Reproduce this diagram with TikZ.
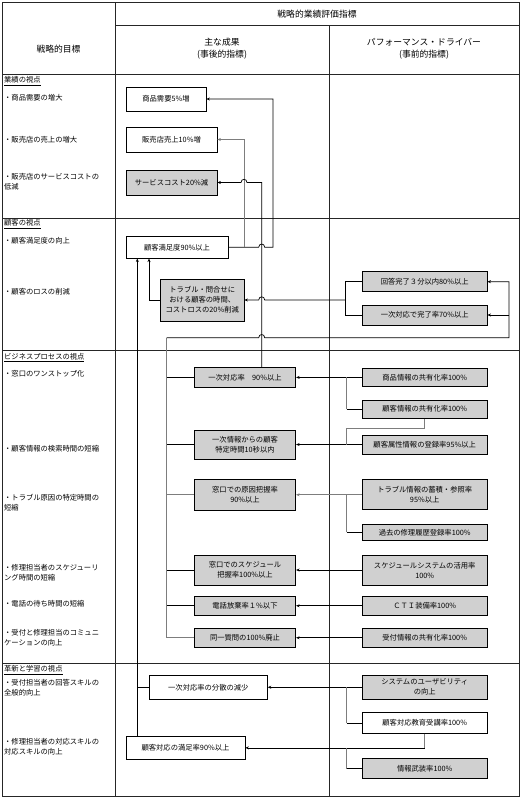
\documentclass[tikz,border=0pt]{standalone}
\usepackage{fontspec}
\setmainfont{Noto Sans CJK JP}
\usetikzlibrary{arrows.meta}
\definecolor{boxgray}{RGB}{208,208,208}
\definecolor{linegray}{RGB}{125,125,125}
\newcommand{\fbody}{\fontsize{7.3pt}{10pt}\selectfont}
\newcommand{\fhead}{\fontsize{8.8pt}{11.7pt}\selectfont}
\begin{document}
\begin{tikzpicture}[x=1pt,y=-1pt,
  tbl/.style={draw=black!85, line width=0.8pt},
  head/.style={align=center, inner sep=0pt, font=\fhead},
  lbl/.style={anchor=west, align=left, inner sep=0pt, font=\fbody},
  wbox/.style={draw=black, line width=0.8pt, fill=white, inner sep=0pt, align=center, font=\fbody},
  gbox/.style={wbox, fill=boxgray},
  rbox/.style={minimum width=124.7pt},
  mbox/.style={minimum width=101.4pt},
  conn/.style={draw=black, line width=0.7pt},
  connG/.style={draw=linegray, line width=0.7pt},
  arr/.style={-{Stealth[length=3.5pt,width=3pt]}}
]
\useasboundingbox (0,0) rectangle (522,798);
% table
\draw[tbl] (2,2) rectangle (519,796);
\draw[tbl] (115,2) -- (115,796);
\draw[tbl] (329,25) -- (329,796);
\draw[tbl] (115,25) -- (519,25);
\draw[tbl] (2,74) -- (519,74);
\draw[tbl] (2,218.5) -- (519,218.5);
\draw[tbl] (2,350.5) -- (519,350.5);
\draw[tbl] (2,663.3) -- (519,663.3);
% headers
\node[head] (h1) at (58.5,49) {戦略的目標};
\node[head] (h2) at (317,14) {戦略的業績評価指標};
\node[head] (h3) at (222,49) {主な成果\\(事後的指標)};
\node[head] (h4) at (424,49) {パフォーマンス・ドライバー\\(事前的指標)};
% left column
\node[lbl] (p1) at (4,81) {\underline{業績の視点}};
\node[lbl] (o1) at (4,98) {・商品需要の増大};
\node[lbl] (o2) at (4,140) {・販売店の売上の増大};
\node[lbl] (o3) at (4,182) {・販売店のサービスコストの\\低減};
\node[lbl] (p2) at (4,224) {\underline{顧客の視点}};
\node[lbl] (o4) at (4,241) {・顧客満足度の向上};
\node[lbl] (o5) at (4,292) {・顧客のロスの削減};
\node[lbl] (p3) at (4,357.5) {\underline{ビジネスプロセスの視点}};
\node[lbl] (o6) at (4,373.5) {・窓口のワンストップ化};
\node[lbl] (o7) at (4,449) {・顧客情報の検索時間の短縮};
\node[lbl] (o8) at (4,503) {・トラブル原因の特定時間の\\短縮};
\node[lbl] (o9) at (4,573) {・修理担当者のスケジューリ\\ング時間の短縮};
\node[lbl] (o10) at (4,603.5) {・電話の待ち時間の短縮};
\node[lbl] (o11) at (4,638) {・受付と修理担当のコミュニ\\ケーションの向上};
\node[lbl] (p4) at (4,670) {\underline{革新と学習の視点}};
\node[lbl] (o12) at (4,687.5) {・受付担当者の回答スキルの\\全般的向上};
\node[lbl] (o13) at (4,747) {・修理担当者の対応スキルの\\対応スキルの向上};
% helper coordinates
\coordinate (vx) at (261.7,0);
\coordinate (rx) at (346.7,0);
\coordinate (j1) at (244,247.25);
\coordinate (b1) at (345,300);
\coordinate (s1) at (137.3,258.5);
\coordinate (s2) at (149,258.5);
\coordinate (bus) at (166.7,337.7);
% boxes
\node[wbox, minimum width=80pt, minimum height=24pt] (demand) at (166,99) {商品需要5\%増};
\node[wbox, minimum width=91pt, minimum height=25pt] (sales) at (171.5,139.5) {販売店売上10\%増};
\node[gbox, minimum width=91pt, minimum height=25pt] (cost) at (171.5,182.5) {サービスコスト20\%減};
\node[wbox, minimum width=102pt, minimum height=22.5pt] (sat) at (177,247.25) {顧客満足度90\%以上};
\node[gbox, minimum width=83.5pt, minimum height=42pt] (trouble) at (202.25,300) {トラブル・問合せに\\おける顧客の時間、\\コストロスの20\%削減};
\node[gbox, rbox, minimum height=20pt] (answer) at (424.7,281.7) {回答完了３分以内80\%以上};
\node[gbox, rbox, minimum height=20pt] (first70) at (424.7,315) {一次対応で完了率70\%以上};
\node[gbox, mbox, minimum height=19.5pt] (fr90) at (245,377.4) {一次対応率　90\%以上};
\node[gbox, rbox, minimum height=18.5pt] (prodinfo) at (424.7,377.4) {商品情報の共有化率100\%};
\node[gbox, rbox, minimum height=18.5pt] (custinfo) at (424.7,409.2) {顧客情報の共有化率100\%};
\node[gbox, mbox, minimum height=29pt] (identify) at (245,444.5) {一次情報からの顧客\\特定時間10秒以内};
\node[gbox, rbox, minimum height=19pt] (attr) at (424.7,444.5) {顧客属性情報の登録率95\%以上};
\node[gbox, mbox, minimum height=30.5pt] (cause) at (245,494.75) {窓口での原因把握率\\90\%以上};
\node[gbox, rbox, minimum height=30pt] (troubleinfo) at (424.7,494.75) {トラブル情報の蓄積・参照率\\95\%以上};
\node[gbox, rbox, minimum height=16.5pt] (history) at (424.7,532.25) {過去の修理履歴登録率100\%};
\node[gbox, mbox, minimum height=30pt] (sched) at (245,570) {窓口でのスケジュール\\把握率100\%以上};
\node[gbox, rbox, minimum height=30pt] (schedsys) at (424.7,570) {スケジュールシステムの活用率\\100\%};
\node[gbox, mbox, minimum height=19.5pt] (phone) at (245,605.75) {電話放棄率１\%以下};
\node[gbox, rbox, minimum height=19.5pt] (cti) at (424.7,605.75) {ＣＴＩ装備率100\%};
\node[gbox, mbox, minimum height=19.5pt] (same) at (245,637.75) {同一質問の100\%廃止};
\node[gbox, rbox, minimum height=19.5pt] (recept) at (424.7,637.75) {受付情報の共有化率100\%};
\node[wbox, minimum width=118pt, minimum height=24.5pt] (disp) at (208.3,687.25) {一次対応率の分散の減少};
\node[gbox, rbox, minimum height=24.5pt] (usab) at (424.7,687.25) {システムのユーザビリティ\\の向上};
\node[wbox, rbox, minimum height=20.8pt] (edu) at (424.7,722.9) {顧客対応教育受講率100\%};
\node[wbox, minimum width=119pt, minimum height=22.3pt] (respsat) at (185.5,747.85) {顧客対応の満足率90\%以上};
\node[gbox, rbox, minimum height=20pt] (arm) at (424.7,768.5) {情報武装率100\%};
% connectors: outcomes
\draw[conn, arr] (sat.east) -- (258.7,247.25) .. controls (258.7,243) and (264.7,243) .. (264.7,247.25) -- (273,247.25) |- (demand.east);
\draw[connG, arr] (j1) |- (sales.east);
\draw[conn, arr] (fr90.north -| vx) -- (261.7,182.5) -- (247,182.5) .. controls (247,178.3) and (241,178.3) .. (241,182.5) -- (cost.east);
\draw[conn] (answer.west) -| (345,315) -- (first70.west);
\draw[conn, arr] (b1) -- (264.7,300) .. controls (264.7,295.8) and (258.7,295.8) .. (258.7,300) -- (trouble.east);
\draw[conn, arr] (trouble.west) -| (s2);
% bus from business process outcomes
\draw[connG] (same.west) -| (bus);
\draw[conn, arr] (bus) -- (258.7,337.7) .. controls (258.7,333.5) and (264.7,333.5) .. (264.7,337.7) -- (509,337.7) |- (answer.east);
\draw[conn, arr] (509,315) -- (first70.east);
\draw[conn] (fr90.west) -- (fr90.west -| bus);
\draw[conn] (identify.west) -- (identify.west -| bus);
\draw[connG] (cause.west) -- (cause.west -| bus);
\draw[conn] (sched.west) -- (sched.west -| bus);
\draw[conn] (phone.west) -- (phone.west -| bus);
% learning to customer satisfaction
\draw[conn, arr] (respsat.north -| s1) -- (s1);
\draw[conn] (disp.west) -- (disp.west -| s1);
% drivers
\draw[conn, arr] (prodinfo.west) -- (fr90.east);
\draw[connG] (prodinfo.west -| rx) -- (custinfo.west -| rx);
\draw[conn] (custinfo.west -| rx) -- (custinfo.west);
\draw[conn, arr] (attr.west) -- (identify.east);
\draw[connG] (custinfo.south) -- ++(0,9.3) -| (attr.west -| rx);
\draw[connG, arr] (troubleinfo.west) -- (cause.east);
\draw[connG] (troubleinfo.west -| rx) -- (history.west -| rx);
\draw[conn] (history.west -| rx) -- (history.west);
\draw[conn, arr] (schedsys.west) -- (sched.east);
\draw[conn, arr] (cti.west) -- (phone.east);
\draw[conn, arr] (recept.west) -- (same.east);
\draw[conn, arr] (usab.west) -- (disp.east);
\draw[connG] (usab.west -| rx) -- (edu.west -| rx);
\draw[conn] (edu.west -| rx) -- (edu.west);
\draw[connG] (edu.south) -- (edu.south |- respsat.east);
\draw[conn, arr] (edu.south |- respsat.east) -- (respsat.east);
\draw[connG] (respsat.east -| rx) -- (arm.west -| rx);
\draw[conn] (arm.west -| rx) -- (arm.west);
\end{tikzpicture}
\end{document}
